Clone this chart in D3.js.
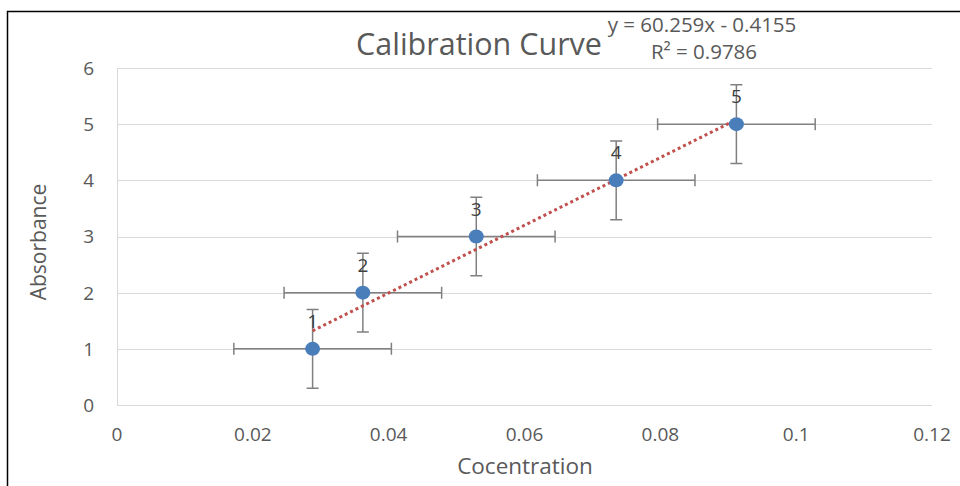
<!DOCTYPE html>
<html>
<head>
<meta charset="utf-8">
<script src="https://cdn.jsdelivr.net/npm/d3@7"></script>
<style>
  html, body { margin: 0; padding: 0; background: #fff; }
  svg text { font-family: "Open Sans", "Noto Sans", sans-serif; }
</style>
</head>
<body>
<div id="chart"></div>
<script>
// Calibration curve data
const concentration = [0.0288, 0.0362, 0.0529, 0.0735, 0.0912];
const absorbance = [1, 2, 3, 4, 5];
const pointLabels = ["1", "2", "3", "4", "5"];
const xError = [0.0116, 0.0116, 0.0116, 0.0116, 0.0116];
const yError = [0.7, 0.7, 0.7, 0.7, 0.7];
const xTicks = [0, 0.02, 0.04, 0.06, 0.08, 0.1, 0.12];
const yTicks = [0, 1, 2, 3, 4, 5, 6];
const slope = 60.259, intercept = -0.4155;

const width = 960, height = 486;
const margin = { left: 117, right: 28, top: 68, bottom: 81 };

const svg = d3.select('#chart').append('svg')
    .attr('width', width)
    .attr('height', height);

// outer frame (only top and left edges visible in the crop)
svg.append('path')
    .attr('d', `M7.5,${height} V11.5 H${width}`)
    .attr('fill', 'none')
    .attr('stroke', '#000')
    .attr('stroke-width', 1.5);

const x = d3.scaleLinear().domain([0, 0.12]).range([margin.left, width - margin.right]);
const y = d3.scaleLinear().domain([0, 6]).range([height - margin.bottom, margin.top]);

// horizontal gridlines
svg.append('g')
    .selectAll('line')
    .data(yTicks)
    .enter().append('line')
    .attr('x1', x(0))
    .attr('x2', x(0.12))
    .attr('y1', d => Math.round(y(d)) + 0.5)
    .attr('y2', d => Math.round(y(d)) + 0.5)
    .attr('stroke', '#d9d9d9')
    .attr('stroke-width', 1);

// y axis line
svg.append('line')
    .attr('x1', x(0) + 0.5).attr('x2', x(0) + 0.5)
    .attr('y1', y(6)).attr('y2', y(0))
    .attr('stroke', '#d9d9d9');

// tick labels
svg.append('g')
    .selectAll('text')
    .data(yTicks)
    .enter().append('text')
    .attr('x', 94)
    .attr('y', d => y(d))
    .attr('dy', '0.36em')
    .attr('text-anchor', 'end')
    .attr('font-size', 19)
    .attr('fill', '#595959')
    .text(d => d);

svg.append('g')
    .selectAll('text')
    .data(xTicks)
    .enter().append('text')
    .attr('x', d => x(d))
    .attr('y', 441)
    .attr('text-anchor', 'middle')
    .attr('font-size', 19)
    .attr('fill', '#595959')
    .text(d => d3.format('')(d));

// axis titles
svg.append('text')
    .attr('x', 525)
    .attr('y', 474)
    .attr('text-anchor', 'middle')
    .attr('font-size', 22.5)
    .attr('fill', '#595959')
    .text('Cocentration');

svg.append('text')
    .attr('transform', 'translate(46, 242) rotate(-90)')
    .attr('text-anchor', 'middle')
    .attr('font-size', 21)
    .attr('fill', '#595959')
    .text('Absorbance');

// chart title
svg.append('text')
    .attr('x', 479)
    .attr('y', 55)
    .attr('text-anchor', 'middle')
    .attr('font-size', 30.5)
    .attr('fill', '#595959')
    .text('Calibration Curve');

// trendline equation
svg.append('text')
    .attr('x', 702)
    .attr('y', 32)
    .attr('text-anchor', 'middle')
    .attr('font-size', 20.5)
    .attr('fill', '#595959')
    .text(`y = ${slope}x - ${Math.abs(intercept)}`);

svg.append('text')
    .attr('x', 704)
    .attr('y', 59)
    .attr('text-anchor', 'middle')
    .attr('font-size', 20.5)
    .attr('fill', '#595959')
    .text('R² = 0.9786');

const points = concentration.map((c, i) => ({
    c, a: absorbance[i], label: pointLabels[i], ex: xError[i], ey: yError[i]
}));

// error bars
const errG = svg.append('g')
    .attr('stroke', '#808080')
    .attr('stroke-width', 1.5)
    .attr('fill', 'none');
const cap = 6;
points.forEach(p => {
    const px = x(p.c), py = y(p.a);
    const x0 = x(p.c - p.ex), x1 = x(p.c + p.ex);
    const y0 = y(p.a - p.ey), y1 = y(p.a + p.ey);
    errG.append('path')
        .attr('d', `M${x0},${py} H${x1} M${x0},${py - cap} V${py + cap} M${x1},${py - cap} V${py + cap}`);
    errG.append('path')
        .attr('d', `M${px},${y0} V${y1} M${px - cap},${y0} H${px + cap} M${px - cap},${y1} H${px + cap}`);
});

// point labels
svg.append('g')
    .selectAll('text')
    .data(points)
    .enter().append('text')
    .attr('x', d => x(d.c))
    .attr('y', d => y(d.a) - 21)
    .attr('text-anchor', 'middle')
    .attr('font-size', 19)
    .attr('fill', '#404040')
    .text(d => d.label);

// linear trendline
const xMin = d3.min(concentration), xMax = d3.max(concentration);
svg.append('line')
    .attr('x1', x(xMin)).attr('y1', y(slope * xMin + intercept))
    .attr('x2', x(xMax)).attr('y2', y(slope * xMax + intercept))
    .attr('stroke', '#c0504d')
    .attr('stroke-width', 3)
    .attr('stroke-dasharray', '3,3');

// markers
svg.append('g')
    .selectAll('ellipse')
    .data(points)
    .enter().append('ellipse')
    .attr('cx', d => x(d.c))
    .attr('cy', d => y(d.a))
    .attr('rx', 7.5)
    .attr('ry', 7)
    .attr('fill', '#4a7ebb');
</script>
</body>
</html>
